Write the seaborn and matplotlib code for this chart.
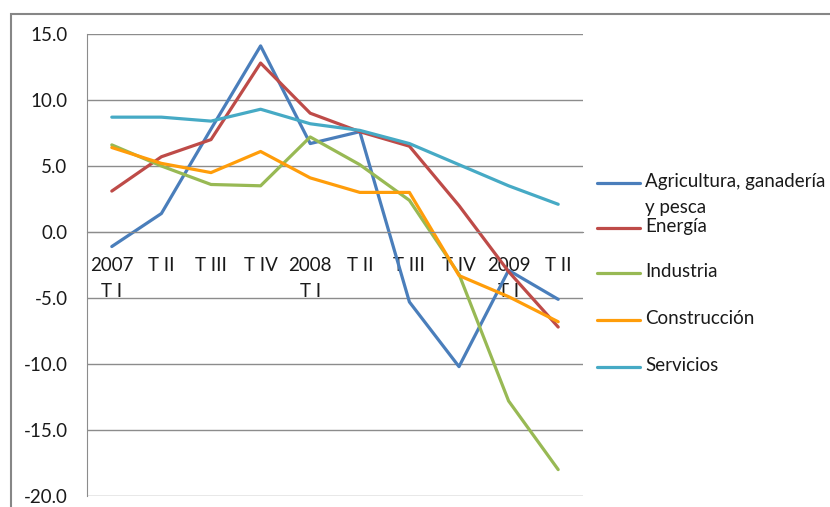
import matplotlib
matplotlib.use("Agg")
import matplotlib.pyplot as plt
from matplotlib.lines import Line2D
from matplotlib.patches import Rectangle
import pandas as pd
import seaborn as sns

quarters = ["2007\nT I", "T II", "T III", "T IV", "2008\nT I",
            "T II", "T III", "T IV", "2009\nT I", "T II"]
series_names = ["Agricultura, ganadería\ny pesca", "Energía", "Industria",
                "Construcción", "Servicios"]
agricultura = [-1.1, 1.4, 7.8, 14.1, 6.7, 7.6, -5.3, -10.2, -2.9, -5.1]
energia = [3.1, 5.7, 7.0, 12.8, 9.0, 7.6, 6.5, 2.0, -3.0, -7.2]
industria = [6.6, 5.0, 3.6, 3.5, 7.2, 5.1, 2.4, -3.2, -12.8, -18.0]
construccion = [6.4, 5.2, 4.5, 6.1, 4.1, 3.0, 3.0, -3.3, -4.9, -6.8]
servicios = [8.7, 8.7, 8.4, 9.3, 8.2, 7.7, 6.7, 5.1, 3.5, 2.1]
colors = ["#4A7EBB", "#BE4B48", "#98B954", "#FF9D0A", "#46AAC5"]

# long table for seaborn
rows = []
for name, vals in zip(series_names, [agricultura, energia, industria,
                                     construccion, servicios]):
    for i, v in enumerate(vals):
        rows.append({"pos": i, "valor": v, "serie": name})
df = pd.DataFrame(rows)

sns.set_style("white")
plt.rcParams["font.family"] = ["Lato", "DejaVu Sans"]
plt.rcParams["axes.unicode_minus"] = False

W, H = 830, 507
FS = 13.5
fig = plt.figure(figsize=(W / 100, H / 100), dpi=100)
ax = fig.add_axes([87 / W, (H - 496) / H, (583 - 87) / W, (496 - 34) / H])

sns.lineplot(data=df, x="pos", y="valor", hue="serie", hue_order=series_names,
             palette=colors, linewidth=2.3, sort=False, legend=False, ax=ax)

grid_c = "#8C8C8C"
ax.set_xlim(-0.5, len(quarters) - 0.5)
ax.set_ylim(-20, 15)
ax.set_yticks(range(-20, 16, 5))
ax.set_yticklabels([f"{v:.1f}" for v in range(-20, 16, 5)])
ax.yaxis.grid(True, color=grid_c, linewidth=1)
ax.set_axisbelow(True)
ax.set_xlabel("")
ax.set_ylabel("")

for s in ["top", "right"]:
    ax.spines[s].set_visible(False)
ax.spines["left"].set_color(grid_c)
ax.spines["bottom"].set_color(grid_c)
ax.spines["bottom"].set_position(("data", 0))

ax.set_xticks(range(len(quarters)))
ax.set_xticklabels(quarters)
ax.set_xticks([i - 0.5 for i in range(len(quarters) + 1)], minor=True)
ax.tick_params(axis="x", which="major", length=0, pad=18, labelsize=FS,
               colors="#1a1a1a")
ax.tick_params(axis="x", which="minor", length=5.5, color=grid_c, direction="out")
ax.tick_params(axis="y", length=5, width=1, color=grid_c, direction="out",
               pad=9, labelsize=FS, labelcolor="#1a1a1a")
for lab in ax.get_xticklabels():
    lab.set_linespacing(1.62)
    lab.set_verticalalignment("top")

# legend drawn by hand to keep the two-line first entry aligned like the original
leg_y = [183, 228, 273, 320, 367]
for name, col, y in zip(series_names, colors, leg_y):
    fig.add_artist(Line2D([597 / W, 640 / W], [(H - y) / H] * 2,
                          color=col, linewidth=2.3))
    fig.text(645 / W, (H - y) / H + 10 / H, name, ha="left", va="top",
             fontsize=FS, color="#1a1a1a", linespacing=1.62)

# outer chart frame
fig.add_artist(Rectangle((11 / W, -0.05), 1.0, (H - 14) / H + 0.05,
                         transform=fig.transFigure, fill=False,
                         edgecolor="#868686", linewidth=1.5))

fig.savefig("out.png", dpi=100)
